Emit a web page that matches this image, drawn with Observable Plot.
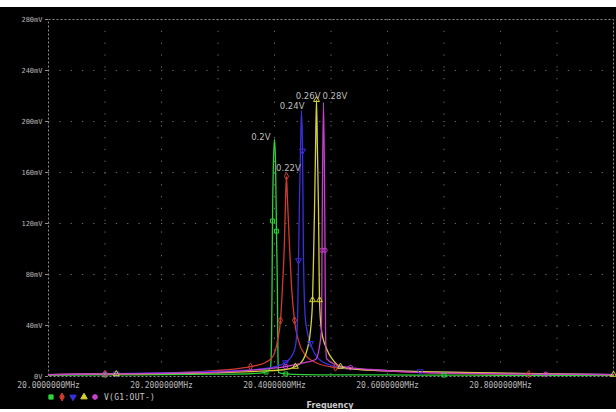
<!DOCTYPE html>
<html>
<head>
<meta charset="utf-8">
<script src="https://cdn.jsdelivr.net/npm/d3@7"></script>
<script src="https://cdn.jsdelivr.net/npm/@observablehq/plot@0.6"></script>
<style>
  html, body { margin: 0; padding: 0; background: #fff; }
  #scope { position: absolute; left: 0; top: 7px; width: 616px; height: 402px; background: #000; }
  #chart { position: absolute; left: 0; top: 0; }
  #legend { position: absolute; left: 46px; top: 385px; height: 10px; display: flex; align-items: center;
            font: 8px "DejaVu Sans Mono", monospace; color: #c8c8c8; letter-spacing: 0.3px; }
  #legend svg { display: block; margin-right: 1px; }
  #xlabel { position: absolute; left: 0; width: 660px; text-align: center; top: 394px;
            font: bold 8px "DejaVu Sans", sans-serif; color: #c8c8c8; }
</style>
</head>
<body>
<div id="scope">
  <div id="chart"></div>
  <div id="legend"></div>
  <div id="xlabel">Frequency</div>
</div>
<script>
// Frequency response of the resonator output V(G1:OUT-) for five drive levels.
// Frequencies in MHz, voltages in mV.
const seriesNames = ["0.2V", "0.22V", "0.24V", "0.26V", "0.28V"];
const seriesColors = ["#2fd23a", "#d23a30", "#3b2fe0", "#d6d236", "#c93fcf"];
const seriesSymbols = ["square", "diamond", "triangle", "triangle", "circle"];
const seriesRotate = [0, 0, 180, 0, 0];

const freq02 = [20.00, 20.10, 20.20, 20.30, 20.36, 20.385, 20.393, 20.3947, 20.3956, 20.3965, 20.3982, 20.400,
                20.4018, 20.4035, 20.4053, 20.406, 20.407, 20.42, 20.45, 20.50, 20.60, 20.70, 20.80, 20.90, 21.00];
const volt02 = [1.0, 1.2, 1.4, 1.8, 2.3, 3.5, 7, 28, 67, 122, 169, 186,
                169, 114, 60, 20, 3, 2, 1.5, 1.3, 1.2, 1.1, 1.0, 1.0, 1.0];

const freq022 = [20.00, 20.10, 20.18, 20.269, 20.322, 20.3575, 20.384, 20.3982, 20.4053, 20.4106, 20.4142, 20.4177, 20.4195, 20.4212,
                 20.423, 20.4265, 20.4301, 20.4354, 20.4425, 20.4549, 20.4726, 20.508, 20.552, 20.623, 20.711, 20.85, 21.00];
const volt022 = [1.5, 2.0, 2.4, 3.9, 5.5, 7.8, 11, 16.5, 28, 44, 71, 107, 138, 157,
                 138, 103, 71, 44, 28, 16.5, 11, 7, 5.5, 3.9, 2.4, 1.8, 1.5];

const freq024 = [20.00, 20.12, 20.234, 20.34, 20.393, 20.4195, 20.4319, 20.4372, 20.4407, 20.4425, 20.4442, 20.446, 20.4478,
                 20.4496, 20.4504, 20.4513, 20.4549, 20.4637, 20.4814, 20.508, 20.552, 20.658, 20.80, 20.90, 21.00];
const volt024 = [1.5, 2.2, 3.1, 4.7, 7, 11, 17, 24, 44, 91, 138, 177, 208.6,
                 177, 138, 91, 44, 26, 12.5, 7.8, 5.5, 3.9, 2.4, 1.9, 1.6];

const freq026 = [20.00, 20.12, 20.234, 20.3575, 20.4195, 20.437, 20.4496, 20.4584, 20.4637, 20.4673, 20.469, 20.4708, 20.4726, 20.4743,
                 20.476, 20.4779, 20.4788, 20.4796, 20.4832, 20.492, 20.5044, 20.5168, 20.552, 20.658, 20.835, 21.00];
const volt026 = [1.5, 2.0, 2.4, 3.9, 5.5, 7.8, 12.5, 22, 36, 60, 91, 130, 177, 217,
                 177, 130, 91, 60, 36, 22, 12.5, 7.8, 5.5, 3.9, 2.4, 1.5];

const freq028 = [20.00, 20.10, 20.20, 20.322, 20.375, 20.4195, 20.4549, 20.4726, 20.4832, 20.4841, 20.485, 20.4867,
                 20.4885, 20.4894, 20.4903, 20.492, 20.508, 20.5345, 20.57, 20.623, 20.747, 20.88, 21.00];
const volt028 = [1.5, 2.0, 2.5, 3.9, 5.5, 7.8, 11, 13.3, 36, 99, 154, 215,
                 154, 99, 36, 14, 9.4, 7, 5.5, 3.9, 2.4, 1.8, 1.5];

const seriesFreq = [freq02, freq022, freq024, freq026, freq028];
const seriesVolt = [volt02, volt022, volt024, volt026, volt028];

// Axis ticks
const xTicks = [20.0, 20.2, 20.4, 20.6, 20.8];
const xGrid = [20.1, 20.2, 20.3, 20.4, 20.5, 20.6, 20.7, 20.8, 20.9];
const yTicks = [0, 40, 80, 120, 160, 200, 240, 280];
const yGrid = [40, 80, 120, 160, 200, 240];

// Build the long-format table used by the marks
const rows = [];
seriesNames.forEach((name, s) => {
  seriesFreq[s].forEach((f, i) => rows.push({series: name, s, i, f, v: seriesVolt[s][i]}));
});

// One label per curve, attached to its peak
const peaks = seriesNames.map((name, s) => {
  const v = seriesVolt[s];
  const k = v.indexOf(d3.max(v));
  return {series: name, s, f: seriesFreq[s][k], v: v[k]};
});
const labelDx = [-4, 2, 3, 4, -1];
const labelDy = [-2, -8, -4, -4, -6.5];
const labelAnchor = ["end", "middle", "end", "end", "start"];

const chart = Plot.plot({
  width: 616,
  height: 385,
  marginTop: 12,
  marginLeft: 48,
  marginRight: 3,
  marginBottom: 16,
  style: {background: "#000", color: "#b8b8b8", fontFamily: "'DejaVu Sans Mono', monospace"},
  x: {domain: [20, 21]},
  y: {domain: [0, 280]},
  color: {domain: seriesNames, range: seriesColors},
  marks: [
    Plot.ruleY(yGrid, {stroke: "#6a6a6a", strokeWidth: 1, strokeDasharray: "1.3,10"}),
    Plot.ruleX(xGrid, {stroke: "#6a6a6a", strokeWidth: 1, strokeDasharray: "1.3,10.5"}),
    Plot.frame({stroke: "#8c8c8c", strokeDasharray: "2,2", strokeWidth: 1}),
    Plot.axisY({ticks: yTicks, tickFormat: d => d === 0 ? "0V" : d + "mV", tickSize: 3, tickPadding: 3,
                fontSize: 7, label: null, stroke: "#8c8c8c"}),
    Plot.axisX({ticks: xTicks, tickFormat: d => d.toFixed(7) + "MHz", tickSize: 0, tickPadding: 6,
                fontSize: 8, label: null}),
    Plot.line(rows, {x: "f", y: "v", z: "series", stroke: "series", strokeWidth: 1.3, curve: "monotone-x"}),
    ...seriesNames.map((name, s) => Plot.dot(rows.filter(d => d.s === s && d.i % 4 === 1), {
      x: "f", y: "v", stroke: seriesColors[s], symbol: () => seriesSymbols[s], rotate: seriesRotate[s],
      r: 2.2, strokeWidth: 1
    })),
    ...peaks.map(p => Plot.text([p], {
      x: "f", y: "v", text: "series", dx: labelDx[p.s], dy: labelDy[p.s], textAnchor: labelAnchor[p.s],
      fontSize: 8.5, fill: "#bdbdbd", fontFamily: "'DejaVu Sans', sans-serif"
    }))
  ]
});
document.getElementById("chart").append(chart);

// Legend row: one marker per curve, then the trace name
const legend = document.getElementById("legend");
const symbolTypes = {square: d3.symbolSquare, diamond: d3.symbolDiamond, triangle: d3.symbolTriangle, circle: d3.symbolCircle};
seriesNames.forEach((name, s) => {
  const svg = d3.create("svg").attr("width", 10).attr("height", 10);
  const sym = d3.symbol(symbolTypes[seriesSymbols[s]], 18);
  svg.append("path").attr("d", sym()).attr("transform", `translate(5,5) rotate(${seriesRotate[s]})`)
     .attr("fill", seriesColors[s]).attr("stroke", seriesColors[s]);
  legend.append(svg.node());
});
const lbl = document.createElement("span");
lbl.textContent = "V(G1:OUT-)";
lbl.style.marginLeft = "3px";
legend.append(lbl);
</script>
</body>
</html>
